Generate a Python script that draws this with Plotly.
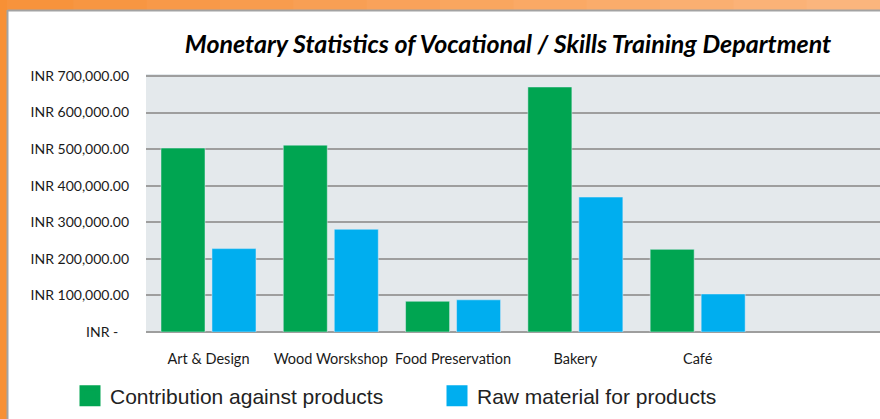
import plotly.graph_objects as go

categories = ["Art & Design", "Wood Worskshop", "Food Preservation", "Bakery", "Café"]
contribution = [503000, 511000, 84000, 670000, 226000]
raw_material = [228000, 281000, 88000, 369000, 104000]
series_names = ["Contribution against products", "Raw material for products"]
y_tickvals = [0, 100000, 200000, 300000, 400000, 500000, 600000, 700000]
y_ticktext = ["INR -\u00a0\u00a0\u00a0", "INR 100,000.00", "INR 200,000.00", "INR 300,000.00",
              "INR 400,000.00", "INR 500,000.00", "INR 600,000.00", "INR 700,000.00"]
title_text = "Monetary Statistics of Vocational / Skills Training Department"

GREEN = "#00a551"
BLUE = "#00aeef"

W, H = 880, 419
L, R, T, B = 146, 0, 74, 87
pw, ph = W - L - R, H - T - B

def px_x(p):
    return (p - L) / pw

def px_y(p):
    return (H - B - p) / ph

fig = go.Figure()
fig.add_trace(go.Bar(x=categories, y=contribution, name=series_names[0], marker_color=GREEN,
                     showlegend=False, legendgroup="a"))
fig.add_trace(go.Bar(x=categories, y=raw_material, name=series_names[1], marker_color=BLUE,
                     showlegend=False, legendgroup="b"))
fig.add_trace(go.Scatter(x=[None], y=[None], mode="markers", name=series_names[0], legendgroup="a",
                         marker=dict(symbol="square", size=16, color=GREEN, line=dict(color=GREEN, width=5))))
fig.add_trace(go.Scatter(x=[None], y=[None], mode="markers", name=series_names[1], legendgroup="b",
                         marker=dict(symbol="square", size=16, color=BLUE, line=dict(color=BLUE, width=5))))

# orange frame (gradient along the top edge)
c0 = (247, 147, 60)
c1 = (251, 181, 125)
n_seg = 12
shapes = []
for i in range(n_seg):
    t = i / (n_seg - 1)
    col = "rgb({},{},{})".format(*[round(a + (b - a) * t) for a, b in zip(c0, c1)])
    shapes.append(dict(type="rect", xref="paper", yref="paper",
                       x0=px_x(W * i / n_seg), x1=px_x(W * (i + 1) / n_seg + 1),
                       y0=px_y(10), y1=px_y(0), fillcolor=col, line_width=0, layer="below"))
shapes += [
    dict(type="rect", xref="paper", yref="paper", x0=px_x(0), x1=px_x(7), y0=px_y(H), y1=px_y(0),
         fillcolor="#f79035", line_width=0),
    dict(type="line", xref="paper", yref="paper", x0=px_x(7.5), x1=px_x(7.5), y0=px_y(H), y1=px_y(10),
         line=dict(color="#a3a3a3", width=2)),
    dict(type="line", xref="paper", yref="paper", x0=px_x(7.5), x1=px_x(W), y0=px_y(10.5), y1=px_y(10.5),
         line=dict(color="#a3a3a3", width=2)),
]

fig.update_layout(
    width=W, height=H,
    margin=dict(l=L, r=R, t=T, b=B, pad=0, autoexpand=False),
    paper_bgcolor="white",
    plot_bgcolor="#e4e9ec",
    barmode="group",
    bargap=0.166,
    bargroupgap=0.137,
    title=dict(text="<b><i>" + title_text + "</i></b>", font=dict(family="Lato", size=25, color="#000"),
               x=508 / W, xref="container", xanchor="center", y=1 - 44 / H, yref="container", yanchor="middle"),
    xaxis=dict(range=[-0.511, 5.491], showgrid=False, showline=False, zeroline=False, ticks="",
               tickfont=dict(family="Lato", size=14.5, color="#1a1a1a"), ticklabelstandoff=16,
               fixedrange=True),
    yaxis=dict(range=[0, 705500], tickvals=y_tickvals, ticktext=y_ticktext, showgrid=True,
               gridcolor="#9e9e9e", gridwidth=2, zeroline=True, zerolinecolor="#9e9e9e", zerolinewidth=2,
               showline=False, ticks="", tickfont=dict(family="Lato", size=14, color="#1a1a1a"),
               ticklabelstandoff=16, fixedrange=True),
    legend=dict(orientation="h", x=px_x(70), xanchor="left", y=px_y(396), yanchor="middle",
                font=dict(family="Liberation Sans", size=21, color="#222"),
                entrywidth=322, entrywidthmode="pixels", bgcolor="rgba(0,0,0,0)", tracegroupgap=0),
    shapes=shapes,
    showlegend=True,
)

fig.write_html("out.html", config={"displayModeBar": False},
               post_script="document.body.style.margin='0px';document.documentElement.style.overflow='hidden';")
